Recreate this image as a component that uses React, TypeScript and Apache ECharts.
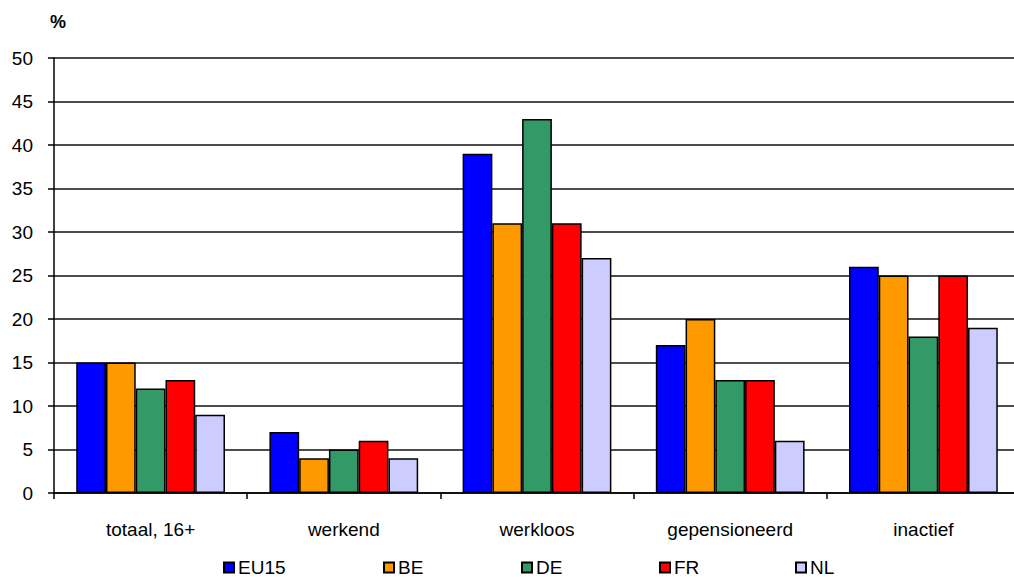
import React, { useEffect, useRef } from "react";
import * as echarts from "echarts";

const categories = ["totaal, 16+", "werkend", "werkloos", "gepensioneerd", "inactief"];
const seriesNames = ["EU15", "BE", "DE", "FR", "NL"];
const eu15 = [15, 7, 39, 17, 26];
const be = [15, 4, 31, 20, 25];
const de = [12, 5, 43, 13, 18];
const fr = [13, 6, 31, 13, 25];
const nl = [9, 4, 27, 6, 19];
const colors = ["#0000FF", "#FF9900", "#339966", "#FF0000", "#CCCCFF"];
const legendLefts = [223, 383, 521, 659, 795];

const FONT = "'Liberation Sans', Arial, sans-serif";

export default function App() {
  const ref = useRef<HTMLDivElement>(null);
  useEffect(() => {
    if (!ref.current) return;
    const chart = echarts.init(ref.current, null, { renderer: "svg" });
    const values = [eu15, be, de, fr, nl];
    chart.setOption({
      animation: false,
      backgroundColor: "#fff",
      textStyle: { fontFamily: FONT },
      grid: {
        left: 54,
        top: 58,
        width: 966,
        height: 435,
        containLabel: false,
        outerBoundsMode: "none",
      },
      graphic: [
        {
          type: "text",
          left: 50,
          top: 13,
          style: { text: "%", font: `bold 18px ${FONT}`, fill: "#000" },
        },
      ],
      legend: seriesNames.map((n, i) => ({
        data: [n],
        left: legendLefts[i],
        top: 558,
        icon: "rect",
        itemWidth: 10,
        itemHeight: 10,
        itemGap: 0,
        padding: 0,
        textStyle: { fontSize: 19, color: "#000", fontFamily: FONT, padding: [0, 0, 0, -1] },
        selectedMode: false,
      })),
      xAxis: {
        type: "category",
        data: categories,
        axisLine: { show: true, lineStyle: { color: "#000", width: 1.5 } },
        axisTick: { show: true, length: 6, lineStyle: { color: "#000", width: 1.5 } },
        axisLabel: { fontSize: 19, color: "#000", margin: 27, fontFamily: FONT },
      },
      yAxis: {
        type: "value",
        min: 0,
        max: 50,
        interval: 5,
        axisLine: { show: true, lineStyle: { color: "#000", width: 1.5 } },
        axisTick: { show: true, length: 6, lineStyle: { color: "#000", width: 1.5 } },
        axisLabel: { fontSize: 19, color: "#000", margin: 21, fontFamily: FONT },
        splitLine: { show: true, lineStyle: { color: "#111", width: 1.5 } },
      },
      series: seriesNames.map((n, i) => ({
        name: n,
        type: "bar",
        data: values[i],
        barGap: "0%",
        barCategoryGap: "23%",
        itemStyle: { color: colors[i], borderColor: "#000", borderWidth: 1.5 },
      })),
    });
    return () => chart.dispose();
  }, []);
  return (
    <div
      ref={ref}
      style={{ position: "fixed", left: 0, top: 0, width: 1014, height: 577, background: "#fff" }}
    />
  );
}
